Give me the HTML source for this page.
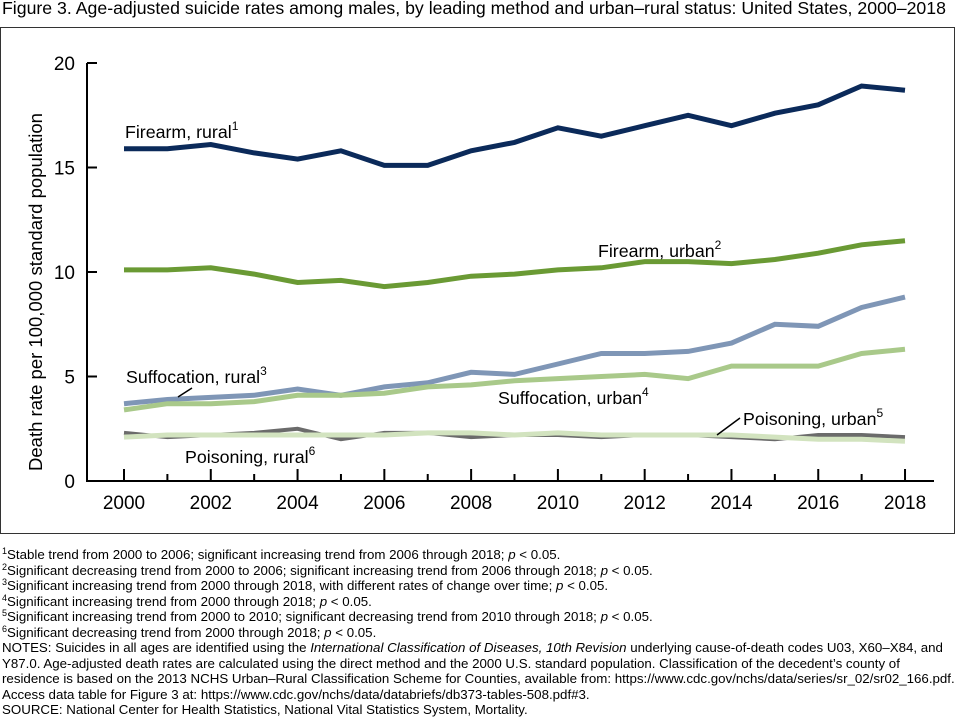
<!DOCTYPE html>
<html><head><meta charset="utf-8"><style>
body{margin:0;width:960px;height:720px;background:#fff;font-family:"Liberation Sans",Arial,sans-serif;color:#000;position:relative;overflow:hidden}
#title{position:absolute;left:2px;top:-2px;font-size:17.7px;white-space:nowrap}
#box{position:absolute;left:0;top:27px;width:955px;height:507px;border:1.5px solid #333;box-sizing:border-box}
#notes{position:absolute;left:2px;top:547px;font-size:13.3px;line-height:15.5px;white-space:nowrap}
sup{font-size:9px;vertical-align:5px;line-height:0}
</style></head><body>
<div id="title">Figure 3. Age-adjusted suicide rates among males, by leading method and urban–rural status: United States, 2000–2018</div>
<div id="box"></div>
<svg id="c" width="960" height="720" style="position:absolute;left:0;top:0" font-family="Liberation Sans, Arial, sans-serif"></svg>
<div id="notes">
<div><sup>1</sup>Stable trend from 2000 to 2006; significant increasing trend from 2006 through 2018; <i>p</i> &lt; 0.05.</div>
<div><sup>2</sup>Significant decreasing trend from 2000 to 2006; significant increasing trend from 2006 through 2018; <i>p</i> &lt; 0.05.</div>
<div><sup>3</sup>Significant increasing trend from 2000 through 2018, with different rates of change over time; <i>p</i> &lt; 0.05.</div>
<div><sup>4</sup>Significant increasing trend from 2000 through 2018; <i>p</i> &lt; 0.05.</div>
<div><sup>5</sup>Significant increasing trend from 2000 to 2010; significant decreasing trend from 2010 through 2018; <i>p</i> &lt; 0.05.</div>
<div><sup>6</sup>Significant decreasing trend from 2000 through 2018; <i>p</i> &lt; 0.05.</div>
<div>NOTES: Suicides in all ages are identified using the <i>International Classification of Diseases, 10th Revision</i> underlying cause-of-death codes U03, X60–X84, and</div>
<div>Y87.0. Age-adjusted death rates are calculated using the direct method and the 2000 U.S. standard population. Classification of the decedent’s county of</div>
<div>residence is based on the 2013 NCHS Urban–Rural Classification Scheme for Counties, available from: https://www.cdc.gov/nchs/data/series/sr_02/sr02_166.pdf.</div>
<div>Access data table for Figure 3 at: https://www.cdc.gov/nchs/data/databriefs/db373-tables-508.pdf#3.</div>
<div>SOURCE: National Center for Health Statistics, National Vital Statistics System, Mortality.</div>
</div>
<script>
var s=document.getElementById('c'),h='';
function X(i){return 124+i*43.39}function Y(v){return 481-v*20.9}
h+='<line x1="87" y1="63" x2="87" y2="482" stroke="#000" stroke-width="2"/><line x1="86" y1="481" x2="934" y2="481" stroke="#000" stroke-width="2"/>';
[0,5,10,15,20].forEach(function(v){h+='<line x1="87" y1="'+Y(v)+'" x2="97" y2="'+Y(v)+'" stroke="#000" stroke-width="2"/><text x="75" y="'+(Y(v)+7)+'" font-size="19" text-anchor="end">'+v+'</text>';});
for(var i=0;i<19;i++){var L=i%2==0?12:7;h+='<line x1="'+X(i)+'" y1="481" x2="'+X(i)+'" y2="'+(481-L)+'" stroke="#000" stroke-width="2"/>';if(i%2==0)h+='<text x="'+X(i)+'" y="509" font-size="19" text-anchor="middle">'+(2000+i)+'</text>';}
h+='<text transform="translate(42,292) rotate(-90)" font-size="18.5" text-anchor="middle">Death rate per 100,000 standard population</text>';
var S=[
["#6b6b6b",4,[2.3,2.1,2.2,2.3,2.5,2.0,2.3,2.3,2.1,2.2,2.2,2.1,2.2,2.2,2.1,2.0,2.2,2.2,2.1]],
["#d2e3bf",5,[2.1,2.2,2.2,2.2,2.2,2.2,2.2,2.3,2.3,2.2,2.3,2.2,2.2,2.2,2.2,2.1,2.0,2.0,1.9]],
["#7f96b6",5,[3.7,3.9,4.0,4.1,4.4,4.1,4.5,4.7,5.2,5.1,5.6,6.1,6.1,6.2,6.6,7.5,7.4,8.3,8.8]],
["#a9c98a",5,[3.4,3.7,3.7,3.8,4.1,4.1,4.2,4.5,4.6,4.8,4.9,5.0,5.1,4.9,5.5,5.5,5.5,6.1,6.3]],
["#6a9a34",5,[10.1,10.1,10.2,9.9,9.5,9.6,9.3,9.5,9.8,9.9,10.1,10.2,10.5,10.5,10.4,10.6,10.9,11.3,11.5]],
["#0b2a5a",5,[15.9,15.9,16.1,15.7,15.4,15.8,15.1,15.1,15.8,16.2,16.9,16.5,17.0,17.5,17.0,17.6,18.0,18.9,18.7]]];
S.forEach(function(a){var p=a[2].map(function(v,i){return X(i).toFixed(1)+','+Y(v).toFixed(1)}).join(' ');h+='<polyline points="'+p+'" fill="none" stroke="'+a[0]+'" stroke-width="'+a[1]+'"/>';});
h+='<line x1="178" y1="397" x2="192" y2="388" stroke="#000" stroke-width="1.5"/><line x1="717" y1="435" x2="740" y2="418" stroke="#000" stroke-width="1.5"/>';
function T(x,y,t,n){h+='<text x="'+x+'" y="'+y+'" font-size="17.8">'+t+'<tspan font-size="12" dy="-8">'+n+'</tspan></text>';}
T(125,138,'Firearm, rural',1);T(598,257,'Firearm, urban',2);T(126,383,'Suffocation, rural',3);T(498,404,'Suffocation, urban',4);T(743,425,'Poisoning, urban',5);T(185,463,'Poisoning, rural',6);
s.innerHTML=h;
</script>
</body></html>
